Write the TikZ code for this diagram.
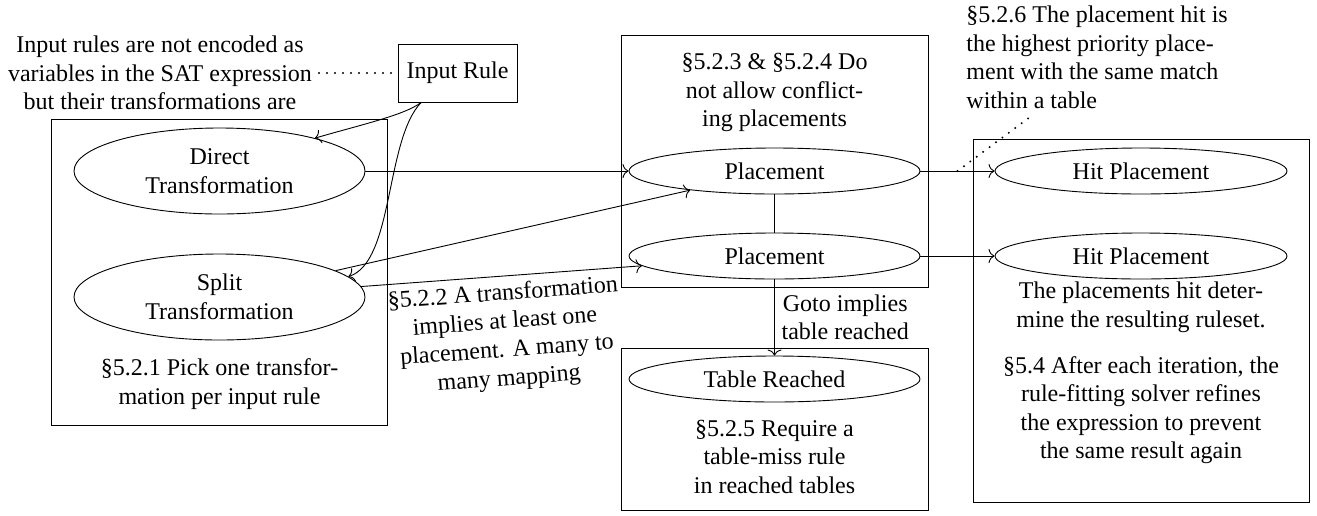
\documentclass[tikz,border=0pt]{standalone}
\usepackage{fontspec}
\setmainfont{Liberation Serif}
\usetikzlibrary{shapes.geometric, arrows.meta}
\tikzset{
  boxnode/.style={draw, rectangle, inner sep=0pt},
  ellnode/.style={draw, ellipse, inner sep=1pt, align=center},
  txtnode/.style={align=center},
  dotline/.style={line width=1.1pt, dash pattern=on 0pt off 4pt, line cap=round},
  arr/.style={-{To[length=3pt, width=7pt]}},
}
\begin{document}
\begin{tikzpicture}[x=0.5pt, y=-0.5pt, font=\fontsize{12}{14.25}\selectfont, line width=0.45pt]
\useasboundingbox (0,0) rectangle (1317,515);
% boxes
\node[boxnode, minimum width=168pt, minimum height=153pt] (leftbox) at (219.5,272) {};
\node[boxnode, minimum width=153.5pt, minimum height=126pt] (topbox) at (774.5,161) {};
\node[boxnode, minimum width=153.5pt, minimum height=81pt] (botbox) at (774.5,429) {};
\node[boxnode, minimum width=168pt, minimum height=181.5pt] (rightbox) at (1141,320.5) {};
\node[boxnode, minimum width=59.5pt, minimum height=29pt] (inrule) at (457.5,73) {Input Rule};
% ellipses
\node[ellnode, minimum width=145.5pt, minimum height=43pt] (direct) at (219.5,171) {Direct\\Transformation};
\node[ellnode, minimum width=145.5pt, minimum height=43pt] (split) at (219.5,297) {Split\\Transformation};
\node[ellnode, minimum width=145.5pt, minimum height=23pt] (place1) at (774.5,171) {Placement};
\node[ellnode, minimum width=145.5pt, minimum height=23pt] (place2) at (774.5,256) {Placement};
\node[ellnode, minimum width=145.5pt, minimum height=23pt] (reached) at (774.5,379) {Table Reached};
\node[ellnode, minimum width=146pt, minimum height=23pt] (hit1) at (1141,171) {Hit Placement};
\node[ellnode, minimum width=146pt, minimum height=23pt] (hit2) at (1141,256) {Hit Placement};
% texts
\node[txtnode] (note1) at (160,73) {Input rules are not encoded as\\variables in the SAT expression\\but their transformations are};
\node[txtnode] (pick) at (219.5,384) {§5.2.1 Pick one transfor-\\mation per input rule};
\node[txtnode] (conf) at (774.5,92.5) {§5.2.3 \& §5.2.4 Do\\not allow conflict-\\ing placements};
\node[txtnode] (req) at (774.5,456.5) {§5.2.5 Require a\\table-miss rule\\in reached tables};
\node[txtnode] (hittxt) at (1141,373) {The placements hit deter-\\mine the resulting ruleset.\\[8.75pt]§5.4 After each iteration, the\\rule-fitting solver refines\\the expression to prevent\\the same result again};
\node[align=left, anchor=west, inner sep=0pt] (note2) at (966,57.5) {§5.2.6 The placement hit is\\the highest priority place-\\ment with the same match\\within a table};
\coordinate (noteend) at (1030,117);
% connectors
\draw[dotline] (note1) -- (inrule);
\draw[arr] (inrule.219) .. controls (405,115) and (360,125) .. (direct.19);
\draw[arr] (inrule.219) .. controls (385,140) and (394,262) .. (split.9);
\draw[arr] (direct) -- (place1);
\draw[arr] (split) -- (place1);
\draw[arr] (split) -- node[midway, below, sloped, align=center] {§5.2.2 A transformation\\implies at least one\\placement. A many to\\many mapping} (place2);
\draw (place1) -- (place2);
\draw[arr] (place1) -- coordinate[midway] (mid) (hit1);
\draw[arr] (place2) -- (hit2);
\draw[arr] (place2) -- node[midway, right, align=center] {Goto implies\\table reached} (reached);
\draw[dotline] (mid) -- (noteend);
\end{tikzpicture}
\end{document}
